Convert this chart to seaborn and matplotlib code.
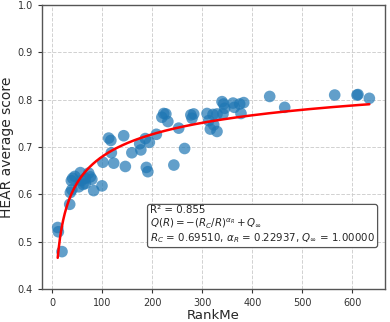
import numpy as np
import pandas as pd
import matplotlib
matplotlib.use("Agg")
import matplotlib.pyplot as plt
import seaborn as sns

rankme = [10.7, 12, 19.3, 34.7, 36, 39, 38, 40.7, 45, 56, 58, 52.7, 61.3, 66, 66, 72.7, 76, 79, 82.7, 99.3,
          101, 122.7, 146, 112.7, 117, 142.7, 118, 159, 174.7, 177, 186, 194, 208, 188, 191, 243, 264.5,
          219, 222.7, 227, 231, 252.7, 277, 282.7, 279.3, 309.3, 312.7, 321.3, 329.3, 316, 322.7, 329.3,
          339.3, 342.7, 344.7, 341.3, 361.3, 364, 374.7, 382.7, 377.3, 434.7, 464.7, 564.7, 609.3, 611.3, 634]
hear = [0.530, 0.521, 0.479, 0.579, 0.604, 0.610, 0.629, 0.634, 0.638, 0.646, 0.629, 0.616, 0.621, 0.634, 0.623,
        0.645, 0.637, 0.632, 0.608, 0.618,
        0.668, 0.666, 0.659, 0.719, 0.714, 0.724, 0.688, 0.688, 0.707, 0.694, 0.718, 0.710, 0.727, 0.657, 0.648,
        0.662, 0.697,
        0.763, 0.771, 0.770, 0.754, 0.740, 0.768, 0.770, 0.761, 0.771, 0.756, 0.769, 0.770, 0.738, 0.747, 0.733,
        0.796, 0.791, 0.782, 0.770, 0.793, 0.784, 0.791, 0.794, 0.771, 0.807, 0.784, 0.810, 0.810, 0.811, 0.803]

R_C = 0.69510
ALPHA_R = 0.22937
Q_INF = 1.00000
R2 = 0.855

df = pd.DataFrame({"RankMe": rankme, "HEAR": hear})

sns.set_style("ticks")
plt.rcParams['font.family'] = ['DejaVu Sans']

fig, ax = plt.subplots(figsize=(3.9, 3.22), dpi=100)
fig.subplots_adjust(left=0.108, right=0.987, top=0.984, bottom=0.1025)

sns.scatterplot(data=df, x="RankMe", y="HEAR", ax=ax, s=70, color="#1f77b4",
                alpha=0.7, edgecolor="none", zorder=3)

xs = np.linspace(min(rankme), max(rankme), 400)
ys = -(R_C / xs) ** ALPHA_R + Q_INF
ax.plot(xs, ys, color="red", lw=1.8, zorder=4)

ax.set_ylim(0.4, 1.0)
ax.set_xticks([0, 100, 200, 300, 400, 500, 600])
ax.set_yticks([0.4, 0.5, 0.6, 0.7, 0.8, 0.9, 1.0])
ax.grid(True, linestyle="--", color="#cccccc", linewidth=0.7, alpha=0.9)
ax.set_axisbelow(True)
for sp in ax.spines.values():
    sp.set_color("#555555")
    sp.set_linewidth(1.0)
ax.tick_params(labelsize=7, colors="#333333", length=3)
ax.set_xlabel("RankMe", fontsize=9.5, labelpad=0.5)
ax.set_ylabel("HEAR average score", fontsize=10, labelpad=3)

txt = ("R\u00b2 = 0.855\n"
       r"$Q(R) = -(R_C/R)^{\alpha_R} + Q_\infty$" "\n"
       r"$R_C$ = 0.69510, $\alpha_R$ = 0.22937, $Q_\infty$ = 1.00000")
ax.text(0.315, 0.155, txt, transform=ax.transAxes, fontsize=7.4, ha="left", va="bottom",
        linespacing=1.1,
        bbox=dict(boxstyle="round,pad=0.25", facecolor="white", edgecolor="#555555", linewidth=0.9),
        zorder=5)

fig.savefig("out.png", dpi=100)
